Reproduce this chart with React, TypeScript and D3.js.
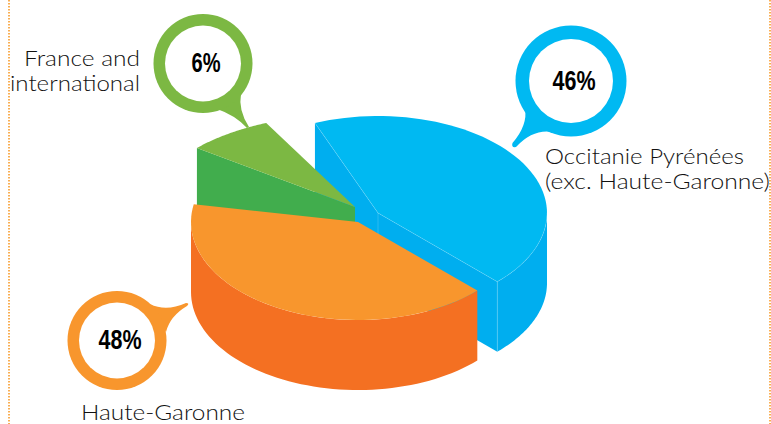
import React from "react";
import * as d3 from "d3";

// Share of each origin, in percent
const categories = ["Occitanie Pyrénées (exc. Haute-Garonne)", "Haute-Garonne", "France and international"];
const shares = [46, 48, 6];
const shareLabels = ["46%", "48%", "6%"];

const DEPTH = 70;
const LABEL_FONT = "Lato, 'Open Sans', sans-serif";
const NUMBER_FONT = "'Liberation Sans Narrow', 'Liberation Sans', sans-serif";

// Layout of each exploded wedge: ellipse centre, radii, where it starts on the
// ellipse (degrees clockwise from east) and how much the tilt foreshortens it.
const wedgeLayout = [
  { cx: 378, cy: 213, rx: 169, ry: 97, start: 248.1, stretch: 157 / 165.6, top: "#00b9f2", side: "#00aeef" },
  { cx: 358, cy: 222, rx: 167, ry: 98, start: 44.4, stretch: 146 / 172.8, top: "#f8962d", side: "#f47022" },
  { cx: 355, cy: 207, rx: 204, ry: 93.4, start: 219.2, stretch: 25 / 21.6, top: "#7cb843", side: "#41ad4d" },
];

const rad = (deg: number) => (deg * Math.PI) / 180;
type Pt = [number, number];
const line = d3.line<Pt>();

const pieArcs = d3.pie<number>().sort(null)(shares);

const wedges = pieArcs.map((arc, i) => {
  const l = wedgeLayout[i];
  const a0 = rad(l.start);
  const a1 = a0 + (arc.endAngle - arc.startAngle) * l.stretch;
  const at = (a: number, dy = 0): Pt => [l.cx + l.rx * Math.cos(a), l.cy + l.ry * Math.sin(a) + dy];
  const sample = (from: number, to: number, dy = 0): Pt[] =>
    d3.range(0, 61).map((k) => at(from + ((to - from) * k) / 60, dy));
  return { ...l, a0, a1, at, sample, apex: [l.cx, l.cy] as Pt };
});

const [blue, orange, green] = wedges;

// Paths built from the wedges
const topFace = (w: (typeof wedges)[number]) => line([w.apex, ...w.sample(w.a0, w.a1)]) + "Z";
const outerWall = (w: (typeof wedges)[number], from: number, to: number) =>
  line([...w.sample(from, to), ...w.sample(to, from, DEPTH)]) + "Z";
const cutWall = (w: (typeof wedges)[number], a: number) => {
  const rim = w.at(a);
  return line([w.apex, rim, [rim[0], rim[1] + DEPTH], [w.apex[0], w.apex[1] + DEPTH]]) + "Z";
};

// Speech-bubble callouts carrying the percentages
const callouts = [
  {
    cx: 571, cy: 81, r: 55.5, inner: 42, color: "#00b9f2", size: 28, width: 43, dy: 8.5,
    tail: "M525,108 Q528,125 512.5,143 Q511,148 516,147 Q533,129 552,132 Z",
  },
  {
    cx: 117, cy: 340.5, r: 49.5, inner: 38, color: "#f8962d", size: 28, width: 43, dy: 8.5,
    tail: "M150,304 Q166,312 186,303 Q190,303 187,306 Q170,316 166,332 Z",
  },
  {
    cx: 203, cy: 63.5, r: 49.5, inner: 38, color: "#7cb843", size: 28, width: 29, dy: 8.5,
    tail: "M241,94 Q238,110 249,127 L247,128 Q235,115 217,109 Z",
  },
];

// Category captions, split over the lines they occupy
const captions = [
  { text: "France and", x: 140, y: 66, anchor: "end", width: 116, size: 22 },
  { text: "international", x: 140, y: 91, anchor: "end", width: 130, size: 22 },
  { text: "Occitanie Pyrénées", x: 545, y: 164, anchor: "start", width: 199, size: 22 },
  { text: "(exc. Haute-Garonne)", x: 545, y: 189, anchor: "start", width: 225, size: 22 },
  { text: "Haute-Garonne", x: 81, y: 419.5, anchor: "start", width: 164, size: 20.8 },
];

const seam = { stroke: "#ffffff", strokeOpacity: 0.28, strokeWidth: 0.6, fill: "none" };

export default function App() {
  const blueRimNear = blue.at(blue.a1 - 2 * Math.PI);
  const blueRimFar = blue.at(blue.a0);
  return (
    <svg
      width={771}
      height={424}
      viewBox="0 0 771 424"
      role="img"
      aria-label={categories.join(", ")}
      style={{ position: "absolute", left: 0, top: 0, display: "block", background: "#fff" }}
    >
      {/* dotted page rules */}
      {[9, 770].map((x) => (
        <line key={x} x1={x} x2={x} y1={0} y2={424} stroke="#f7941d" strokeWidth={1.5} strokeDasharray="1.5 1.5" />
      ))}

      {/* blue wedge */}
      <path d={outerWall(blue, 0, blue.a1 - 2 * Math.PI)} fill={blue.side} />
      <path d={cutWall(blue, blue.a0)} fill={blue.side} />
      <path d={cutWall(blue, blue.a1)} fill={blue.side} />
      <path d={topFace(blue)} fill={blue.top} />
      <path d={line([blue.apex, blueRimFar])!} {...seam} />
      <path d={line([blue.apex, blueRimNear])!} {...seam} />
      <path d={line([blue.apex, [blue.cx, blue.cy + DEPTH]])!} {...seam} />
      <path d={line([blueRimNear, [blueRimNear[0], blueRimNear[1] + DEPTH]])!} {...seam} />
      <path d={line(blue.sample(0, blue.a1 - 2 * Math.PI))!} {...seam} />

      {/* green wedge */}
      <path d={cutWall(green, green.a0)} fill={green.side} />
      <path d={topFace(green)} fill={green.top} />

      {/* orange wedge */}
      <path d={outerWall(orange, orange.a0, Math.PI)} fill={orange.side} />
      <path d={topFace(orange)} fill={orange.top} />

      {/* callouts */}
      {pieArcs.map((_, i) => {
        const c = callouts[i];
        return (
          <g key={categories[i]}>
            <path d={c.tail} fill={c.color} />
            <circle cx={c.cx} cy={c.cy} r={c.r} fill={c.color} />
            <circle cx={c.cx} cy={c.cy} r={c.inner} fill="#fff" />
            <text
              x={c.cx + 3}
              y={c.cy + c.dy}
              textAnchor="middle"
              fontFamily={NUMBER_FONT}
              fontWeight={700}
              fontSize={c.size}
              textLength={c.width}
              lengthAdjust="spacingAndGlyphs"
              fill="#000"
            >
              {shareLabels[i]}
            </text>
          </g>
        );
      })}

      {/* captions */}
      {captions.map((c) => (
        <text
          key={c.text}
          x={c.x}
          y={c.y}
          textAnchor={c.anchor}
          fontFamily={LABEL_FONT}
          fontWeight={300}
          fontSize={c.size}
          textLength={c.width}
          lengthAdjust="spacingAndGlyphs"
          fill="#111"
        >
          {c.text}
        </text>
      ))}
    </svg>
  );
}
